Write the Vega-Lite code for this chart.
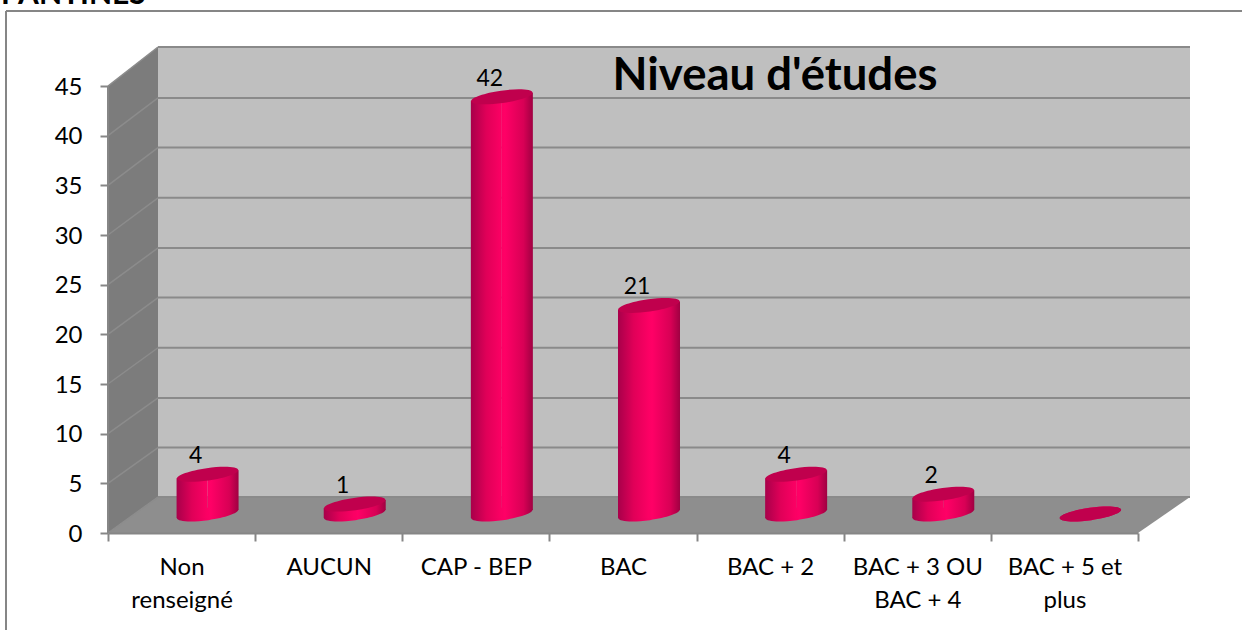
{
"$schema":"https://vega.github.io/schema/vega-lite/v6.json",
"width":1082,"height":486,
"autosize":"none",
"padding":{"left":108,"top":47,"right":52,"bottom":97},
"background":"white",
"view":{"stroke":null},
"datasets":{
"niveaux":[
{"niveau":"Non renseigné","effectif":4},
{"niveau":"AUCUN","effectif":1},
{"niveau":"CAP - BEP","effectif":42},
{"niveau":"BAC","effectif":21},
{"niveau":"BAC + 2","effectif":4},
{"niveau":"BAC + 3 OU BAC + 4","effectif":2},
{"niveau":"BAC + 5 et plus","effectif":0}
],
"paroi":[
{"profondeur":0,"haut":45,"bas":0},
{"profondeur":50,"haut":48.93,"bas":3.62}
],
"sol":[
{"profondeur":0,"haut":0,"bas":0},
{"profondeur":50,"haut":3.62,"bas":0},
{"profondeur":1030,"haut":3.62,"bas":0},
{"profondeur":1082,"haut":3.62,"bas":3.62}
],
"fond":[{"de":50,"a":1082,"haut":48.93,"bas":3.62}],
"grille":[
{"v":8.6,"f":5},{"v":13.6,"f":10},{"v":18.65,"f":15},{"v":23.7,"f":20},{"v":28.7,"f":25},{"v":33.75,"f":30},{"v":38.8,"f":35},{"v":43.8,"f":40},{"v":48.93,"f":45},{"v":3.62,"f":0}
]
},
"resolve":{"scale":{"x":"independent"},"axis":{"x":"independent","y":"independent"}},
"layer":[
{"resolve":{"axis":{"x":"independent","y":"independent"}},"layer":[
{"data":{"name":"fond"},"mark":{"type":"rect","color":"#BFBFBF"},
 "encoding":{"x":{"field":"de","type":"quantitative","axis":null,"scale":{"domain":[0,1082],"nice":false,"zero":false}},"x2":{"field":"a"},
 "y":{"field":"haut","type":"quantitative","scale":{"domain":[0,48.93],"nice":false,"zero":false},
   "axis":{"title":null,"values":[0,5,10,15,20,25,30,35,40,45],"grid":false,"domain":false,"ticks":true,"tickSize":8,"tickWidth":2,"tickColor":"#868686","labelFont":"Lato","labelFontSize":24,"labelColor":"#000000","labelPadding":18,"labelBaseline":"middle","labelOffset":1,"zindex":1}},
 "y2":{"field":"bas"}}},
{"data":{"name":"paroi"},"mark":{"type":"area","color":"#7C7C7C"},
 "encoding":{"x":{"field":"profondeur","type":"quantitative","axis":null},"y":{"field":"haut","type":"quantitative","axis":null},"y2":{"field":"bas"}}},
{"data":{"name":"sol"},"mark":{"type":"area","color":"#8E8E8E"},
 "encoding":{"x":{"field":"profondeur","type":"quantitative","axis":null},"y":{"field":"haut","type":"quantitative","axis":null},"y2":{"field":"bas"}}},
{"data":{"name":"grille"},"mark":{"type":"rule","color":"#8A8A8A","strokeWidth":2},
 "encoding":{"x":{"datum":50,"type":"quantitative","axis":null},"x2":{"datum":1082},"y":{"field":"v","type":"quantitative","axis":null}}},
{"data":{"name":"grille"},"mark":{"type":"rule","color":"#8C8C8C","strokeWidth":1.5},
 "encoding":{"x":{"datum":0,"type":"quantitative","axis":null},"x2":{"datum":50},"y":{"field":"f","type":"quantitative","axis":null},"y2":{"field":"v"}}},
{"data":{"values":[{"a":0}]},"mark":{"type":"rule","color":"#868686","strokeWidth":2},
 "encoding":{"x":{"datum":0,"type":"quantitative","axis":null},"y":{"datum":0,"type":"quantitative","axis":null},"y2":{"datum":45}}},
{"data":{"values":[{"a":0}]},"mark":{"type":"rule","color":"#868686","strokeWidth":2},
 "encoding":{"x":{"datum":-102,"type":"quantitative","axis":null},"y":{"datum":-9.8,"type":"quantitative","axis":null},"y2":{"datum":52.55}}},
{"data":{"values":[{"a":0}]},"mark":{"type":"rule","color":"#868686","strokeWidth":2},
 "encoding":{"x":{"datum":-102,"type":"quantitative","axis":null},"x2":{"datum":1134},"y":{"datum":52.55,"type":"quantitative","axis":null}}},
{"data":{"values":[{"titre":"PANTINES"}]},"mark":{"type":"text","font":"Lato","fontSize":30,"fontWeight":"bold","color":"#000000","align":"left","baseline":"alphabetic"},
 "encoding":{"text":{"field":"titre"},"x":{"datum":-107,"type":"quantitative","axis":null},"y":{"datum":53.25,"type":"quantitative","axis":null}}},
{"data":{"values":[{"titre":"Niveau d'études"}]},"mark":{"type":"text","font":"Lato","fontSize":45.5,"fontWeight":"bold","color":"#000000","align":"center","baseline":"alphabetic"},
 "encoding":{"text":{"field":"titre"},"x":{"datum":667,"type":"quantitative","axis":null},"y":{"datum":44.6,"type":"quantitative","axis":null}}}
]},
{"data":{"name":"niveaux"},"resolve":{"axis":{"x":"independent","y":"independent"}},"layer":[
{"mark":{"type":"point","filled":true,"opacity":1,"size":3844,"xOffset":26,"yOffset":-19,"strokeWidth":0,
 "shape":"M-0.99,0.139C-1.005,0.03,-0.574,-0.121,-0.028,-0.198C0.518,-0.275,0.975,-0.248,0.99,-0.139C1.005,-0.03,0.574,0.121,0.028,0.198C-0.518,0.275,-0.975,0.248,-0.99,0.139Z",
 "color":{"gradient":"linear","x1":0,"x2":1,"y1":0,"y2":0,"stops":[{"offset":0,"color":"#A8004A"},{"offset":0.25,"color":"#E00058"},{"offset":0.55,"color":"#FF0066"},{"offset":0.85,"color":"#D80055"},{"offset":1,"color":"#A00042"}]}},
 "encoding":{
 "x":{"field":"niveau","type":"nominal","sort":null,
  "scale":{"type":"band","domain":["Non renseigné","AUCUN","CAP - BEP","BAC","BAC + 2","BAC + 3 OU BAC + 4","BAC + 5 et plus"],"range":[0,1030],"paddingInner":0,"paddingOuter":0},
  "axis":{"title":null,"orient":"bottom","labelAngle":0,"tickBand":"extent","tickSize":8,"tickWidth":2,"tickColor":"#868686","domainColor":"#868686","domainWidth":2,"labelFont":"Lato","labelFontSize":24,"labelColor":"#000000","labelPadding":14,"labelLineHeight":33,"labelLimit":0,"zindex":1,
   "labelExpr":"datum.label=='Non renseigné'?['Non','renseigné']:datum.label=='BAC + 3 OU BAC + 4'?['BAC + 3 OU','BAC + 4']:datum.label=='BAC + 5 et plus'?['BAC + 5 et','plus']:datum.label"}},
 "y":{"datum":0,"type":"quantitative","axis":null}}},
{"mark":{"type":"bar","width":31,"xOffset":10.5,"yOffset":-15,"y2Offset":-15,
 "color":{"gradient":"linear","x1":0,"x2":1,"y1":0,"y2":0,"stops":[{"offset":0,"color":"#A8004A"},{"offset":0.5,"color":"#E00058"},{"offset":1,"color":"#FC0064"}]}},
 "encoding":{"x":{"field":"niveau","type":"nominal","sort":null,"axis":null},
 "y":{"field":"effectif","type":"quantitative","axis":null},"y2":{"datum":0}}},
{"mark":{"type":"bar","width":31,"xOffset":41.5,"yOffset":-23,"y2Offset":-23,
 "color":{"gradient":"linear","x1":0,"x2":1,"y1":0,"y2":0,"stops":[{"offset":0,"color":"#FC0064"},{"offset":0.1,"color":"#FF0066"},{"offset":0.7,"color":"#D80055"},{"offset":1,"color":"#A00042"}]}},
 "encoding":{"x":{"field":"niveau","type":"nominal","sort":null,"axis":null},
 "y":{"field":"effectif","type":"quantitative","axis":null},"y2":{"datum":0}}},
{"mark":{"type":"point","filled":true,"opacity":1,"size":3844,"xOffset":26,"yOffset":-19,"strokeWidth":0,"color":"#C0004D",
 "shape":"M-0.99,0.139C-1.005,0.03,-0.574,-0.121,-0.028,-0.198C0.518,-0.275,0.975,-0.248,0.99,-0.139C1.005,-0.03,0.574,0.121,0.028,0.198C-0.518,0.275,-0.975,0.248,-0.99,0.139Z"},
 "encoding":{"x":{"field":"niveau","type":"nominal","sort":null,"axis":null},
 "y":{"field":"effectif","type":"quantitative","axis":null}}},
{"transform":[{"filter":"datum.effectif>0"}],
 "mark":{"type":"text","font":"Lato","fontSize":23,"color":"#000000","align":"center","baseline":"alphabetic","dx":14,"dy":-30},
 "encoding":{"x":{"field":"niveau","type":"nominal","sort":null,"axis":null},
 "y":{"field":"effectif","type":"quantitative","axis":null},"text":{"field":"effectif","type":"quantitative"}}}
]}
]
}
